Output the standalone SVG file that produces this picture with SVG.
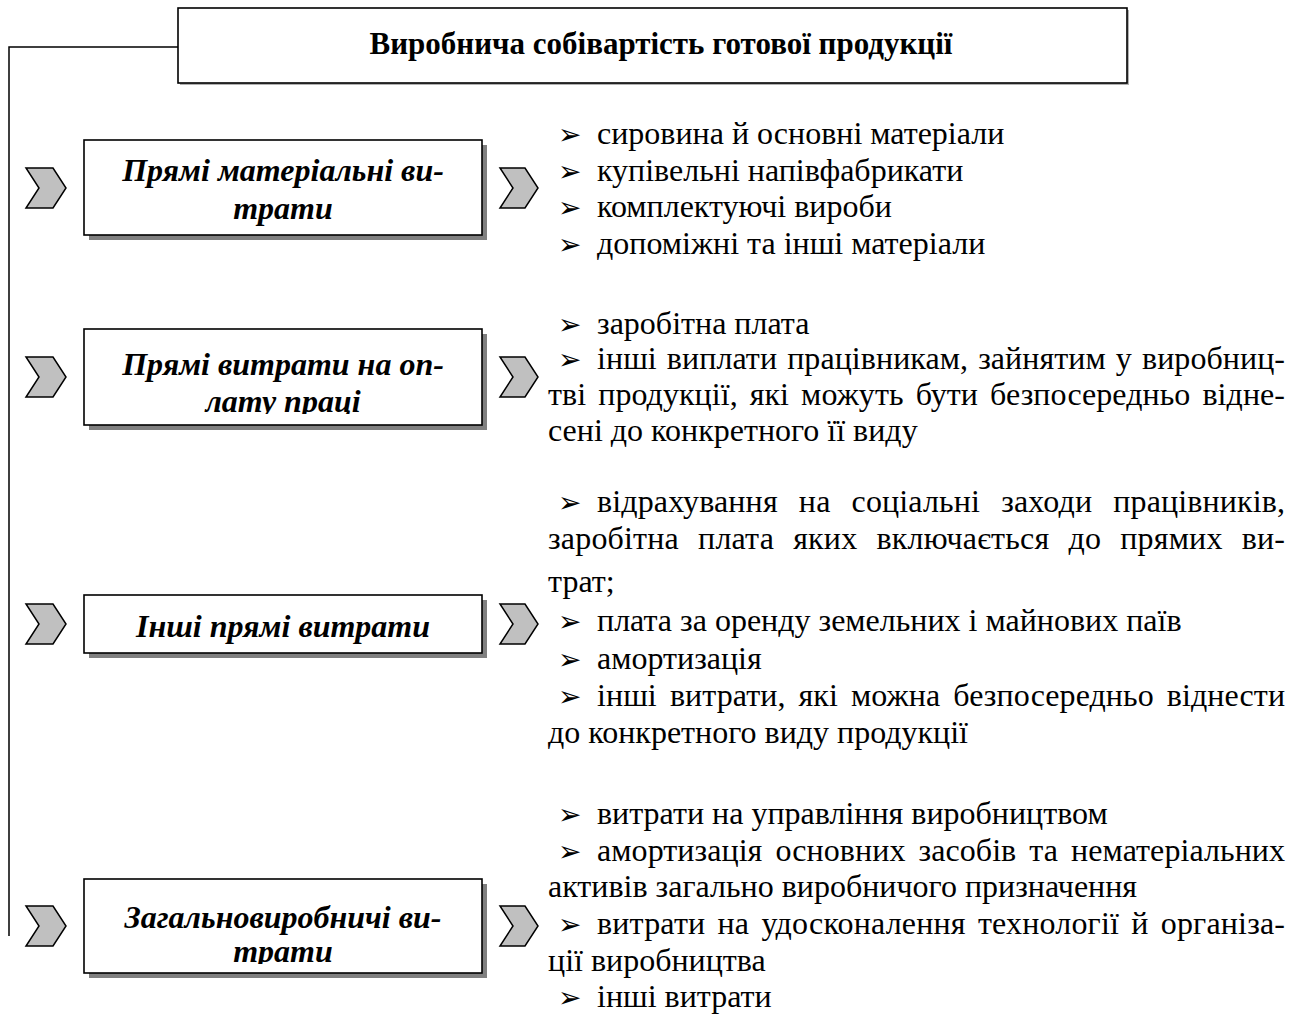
<svg xmlns="http://www.w3.org/2000/svg" width="1290" height="1016" viewBox="0 0 1290 1016">
<style>
.box{fill:#fff;stroke:#000;stroke-width:1.6}
.shadow{fill:#808080}
.chev{fill:#c0c0c0;stroke:#000;stroke-width:1.5;stroke-linejoin:miter}
.lbl{font-family:"Liberation Serif","Times New Roman",serif;font-weight:bold;font-style:italic;font-size:32px;text-anchor:middle;fill:#000}
.title{font-family:"Liberation Serif","Times New Roman",serif;font-weight:bold;font-size:31px;text-anchor:middle;fill:#000}
.t{font-family:"Liberation Serif","Times New Roman",serif;font-size:32px;fill:#000}
.b{font-family:"DejaVu Sans",sans-serif;font-size:28px;fill:#000}
.conn{fill:none;stroke:#000;stroke-width:1.5}
</style>
<defs>
<clipPath id="c2"><rect x="84" y="329" width="398" height="85"/></clipPath>
<clipPath id="c4"><rect x="84" y="879" width="398" height="85"/></clipPath>
</defs>
<rect width="1290" height="1016" fill="#fff"/>
<g id="connectors">
<path class="conn" d="M178,47 H9 V936"/>
</g>
<g id="title">
<rect x="180" y="10" width="949" height="75" fill="#b0b0b0"/>
<rect class="box" x="178" y="8" width="949" height="75"/>
<text class="title" x="661" y="54">Виробнича собівартість готової продукції</text>
</g>
<g id="node1">
<polygon class="chev" points="26,168 53,168 66,188 53,208 26,208 39,188"/>
<rect class="shadow" x="89" y="145" width="398" height="95"/>
<rect class="box" x="84" y="140" width="398" height="95"/>
<text class="lbl" x="283" y="181">Прямі матеріальні ви-</text>
<text class="lbl" x="283" y="219">трати</text>
<polygon class="chev" points="500,168 525,168 538,188 525,208 500,208 513,188"/>
<g id="list1">
<text class="b" x="558" y="144">➢</text><text class="t" x="597" y="144">сировина й основні матеріали</text>
<text class="b" x="558" y="181">➢</text><text class="t" x="597" y="181">купівельні напівфабрикати</text>
<text class="b" x="558" y="217">➢</text><text class="t" x="597" y="217">комплектуючі вироби</text>
<text class="b" x="558" y="254">➢</text><text class="t" x="597" y="254">допоміжні та інші матеріали</text>
</g>
</g>
<g id="node2">
<polygon class="chev" points="26,357 53,357 66,377 53,397 26,397 39,377"/>
<rect class="shadow" x="89" y="334" width="398" height="96"/>
<rect class="box" x="84" y="329" width="398" height="96"/>
<g clip-path="url(#c2)">
<text class="lbl" x="283" y="375">Прямі витрати на оп-</text>
<text class="lbl" x="283" y="412">лату праці</text>
</g>
<polygon class="chev" points="500,357 525,357 538,377 525,397 500,397 513,377"/>
<g id="list2">
<text class="b" x="558" y="334">➢</text><text class="t" x="597" y="334">заробітна плата</text>
<text class="b" x="558" y="369">➢</text><text class="t" x="597" y="369" word-spacing="2" textLength="688" lengthAdjust="spacing">інші виплати працівникам, зайнятим у виробниц-</text>
<text class="t" x="548" y="405" word-spacing="4" textLength="737" lengthAdjust="spacing">тві продукції, які можуть бути безпосередньо відне-</text>
<text class="t" x="548" y="441">сені до конкретного її виду</text>
</g>
</g>
<g id="node3">
<polygon class="chev" points="26,604 53,604 66,624 53,644 26,644 39,624"/>
<rect class="shadow" x="89" y="600" width="398" height="58"/>
<rect class="box" x="84" y="595" width="398" height="58"/>
<text class="lbl" x="283" y="637">Інші прямі витрати</text>
<polygon class="chev" points="500,604 525,604 538,624 525,644 500,644 513,624"/>
<g id="list3">
<text class="b" x="558" y="512">➢</text><text class="t" x="597" y="512" word-spacing="13" textLength="688" lengthAdjust="spacing">відрахування на соціальні заходи працівників,</text>
<text class="t" x="548" y="549" word-spacing="11" textLength="737" lengthAdjust="spacing">заробітна плата яких включається до прямих ви-</text>
<text class="t" x="548" y="592">трат;</text>
<text class="b" x="558" y="631">➢</text><text class="t" x="597" y="631">плата за оренду земельних і майнових паїв</text>
<text class="b" x="558" y="669">➢</text><text class="t" x="597" y="669">амортизація</text>
<text class="b" x="558" y="706">➢</text><text class="t" x="597" y="706" word-spacing="5" textLength="688" lengthAdjust="spacing">інші витрати, які можна безпосередньо віднести</text>
<text class="t" x="548" y="743">до конкретного виду продукції</text>
</g>
</g>
<g id="node4">
<polygon class="chev" points="26,906 53,906 66,926 53,946 26,946 39,926"/>
<rect class="shadow" x="89" y="884" width="398" height="94"/>
<rect class="box" x="84" y="879" width="398" height="94"/>
<g clip-path="url(#c4)">
<text class="lbl" x="283" y="928">Загальновиробничі ви-</text>
<text class="lbl" x="283" y="962">трати</text>
</g>
<polygon class="chev" points="500,906 525,906 538,926 525,946 500,946 513,926"/>
<g id="list4">
<text class="b" x="558" y="824">➢</text><text class="t" x="597" y="824">витрати на управління виробництвом</text>
<text class="b" x="558" y="861">➢</text><text class="t" x="597" y="861" word-spacing="5" textLength="688" lengthAdjust="spacing">амортизація основних засобів та нематеріальних</text>
<text class="t" x="548" y="897">активів загально виробничого призначення</text>
<text class="b" x="558" y="934">➢</text><text class="t" x="597" y="934" word-spacing="4" textLength="688" lengthAdjust="spacing">витрати на удосконалення технології й організа-</text>
<text class="t" x="548" y="971">ції виробництва</text>
<text class="b" x="558" y="1007">➢</text><text class="t" x="597" y="1007">інші витрати</text>
</g>
</g>
</svg>
